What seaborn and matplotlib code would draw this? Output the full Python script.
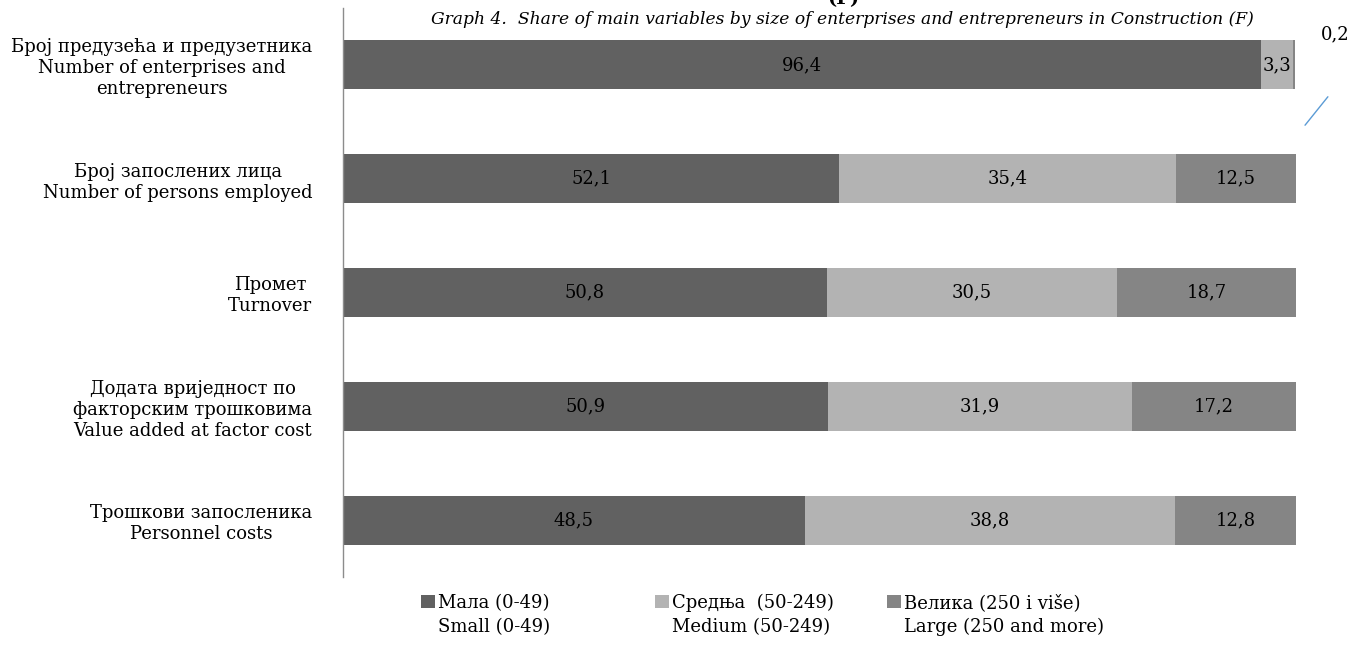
import matplotlib
matplotlib.use('Agg')
import matplotlib.pyplot as plt
from matplotlib.patches import Patch
import numpy as np
import pandas as pd
import seaborn as sns

# data
categories = [
    'Број предузећа и предузетника\nNumber of enterprises and\nentrepreneurs',
    'Број запослених лица\nNumber of persons employed',
    'Промет\nTurnover',
    'Додата вриједност по\nфакторским трошковима\nValue added at factor cost',
    'Трошкови запосленика\nPersonnel costs',
]
small = [96.4, 52.1, 50.8, 50.9, 48.5]
medium = [3.3, 35.4, 30.5, 31.9, 38.8]
large = [0.2, 12.5, 18.7, 17.2, 12.8]
legend_cyr = ['Мала (0-49)', 'Средња  (50-249)', 'Велика (250 i više)']
legend_eng = ['Small (0-49)', 'Medium (50-249)', 'Large (250 and more)']
colors = ['#616161', '#b3b3b3', '#858585']
title = 'Graph 4.  Share of main variables by size of enterprises and entrepreneurs in Construction (F)'

df = pd.DataFrame({'cat': categories, 'small': small,
                   'medium': medium, 'large': large})
df['c1'] = df['small']
df['c2'] = df['small'] + df['medium']
df['c3'] = df['c2'] + df['large']

sns.set_style('white')
plt.rcParams['font.family'] = ['DejaVu Serif']
plt.rcParams['text.color'] = 'black'
plt.rcParams['ytick.color'] = 'black'

fig = plt.figure(figsize=(13.52, 6.65), dpi=100)
ax = fig.add_axes([343 / 1352, 1 - 577 / 665, 952.5 / 1352, 569 / 665])

# stacked bars drawn back to front
for col, c in zip(['c3', 'c2', 'c1'], colors[::-1]):
    sns.barplot(data=df, x=col, y='cat', orient='h', color=c, width=0.43,
                saturation=1, linewidth=0, ax=ax)

ax.set_xlim(0, 100)
ax.set_ylim(4.5, -0.5)
ax.set_xlabel('')
ax.set_ylabel('')
ax.set_xticks([])
ax.set_yticks(range(len(categories)))
ax.set_yticklabels(categories, multialignment='center', fontsize=13,
                   color='black')
ax.tick_params(axis='y', length=0, pad=22)

for s in ['top', 'right', 'bottom']:
    ax.spines[s].set_visible(False)
ax.spines['left'].set_color('#8c8c8c')
ax.spines['left'].set_linewidth(1)

# value labels
for i, row in df.iterrows():
    segs = [(0, row['small']), (row['c1'], row['medium']), (row['c2'], row['large'])]
    for start, val in segs:
        txt = f'{val:.1f}'.replace('.', ',')
        if val < 1:
            # tiny segment: label sits outside with a leader line
            ax.text(row['c3'] + 4.3, i - 0.27, txt, ha='center', va='center',
                    fontsize=13, color='black', clip_on=False)
            ax.plot([row['c3'] + 1.1, row['c3'] + 3.5], [i + 0.53, i + 0.28],
                    color='#5b9bd5', lw=1, clip_on=False)
        else:
            ax.text(start + val / 2, i, txt, ha='center', va='center',
                    fontsize=13, color='black')

fig.text(843 / 1352, 1 - 4 / 665, '(F)', ha='center', va='baseline',
         fontsize=14, fontweight='bold')
fig.text(842 / 1352, 1 - 20 / 665, title, ha='center', va='center',
         fontsize=12.3, style='italic')

# legend: one small legend per size class, first line with the swatch
blank = Patch(facecolor='none', edgecolor='none')
for c, l1, l2, x0 in zip(colors, legend_cyr, legend_eng, [421, 655, 887]):
    fig.legend([Patch(facecolor=c, edgecolor='none'), blank], [l1, l2],
               loc='center left', bbox_to_anchor=(x0 / 1352, 1 - 615 / 665),
               frameon=False, fontsize=13, handlelength=0.75,
               handleheight=0.75, handletextpad=0.2, labelspacing=0.33,
               borderpad=0, borderaxespad=0)

fig.savefig('out.png', dpi=100)
